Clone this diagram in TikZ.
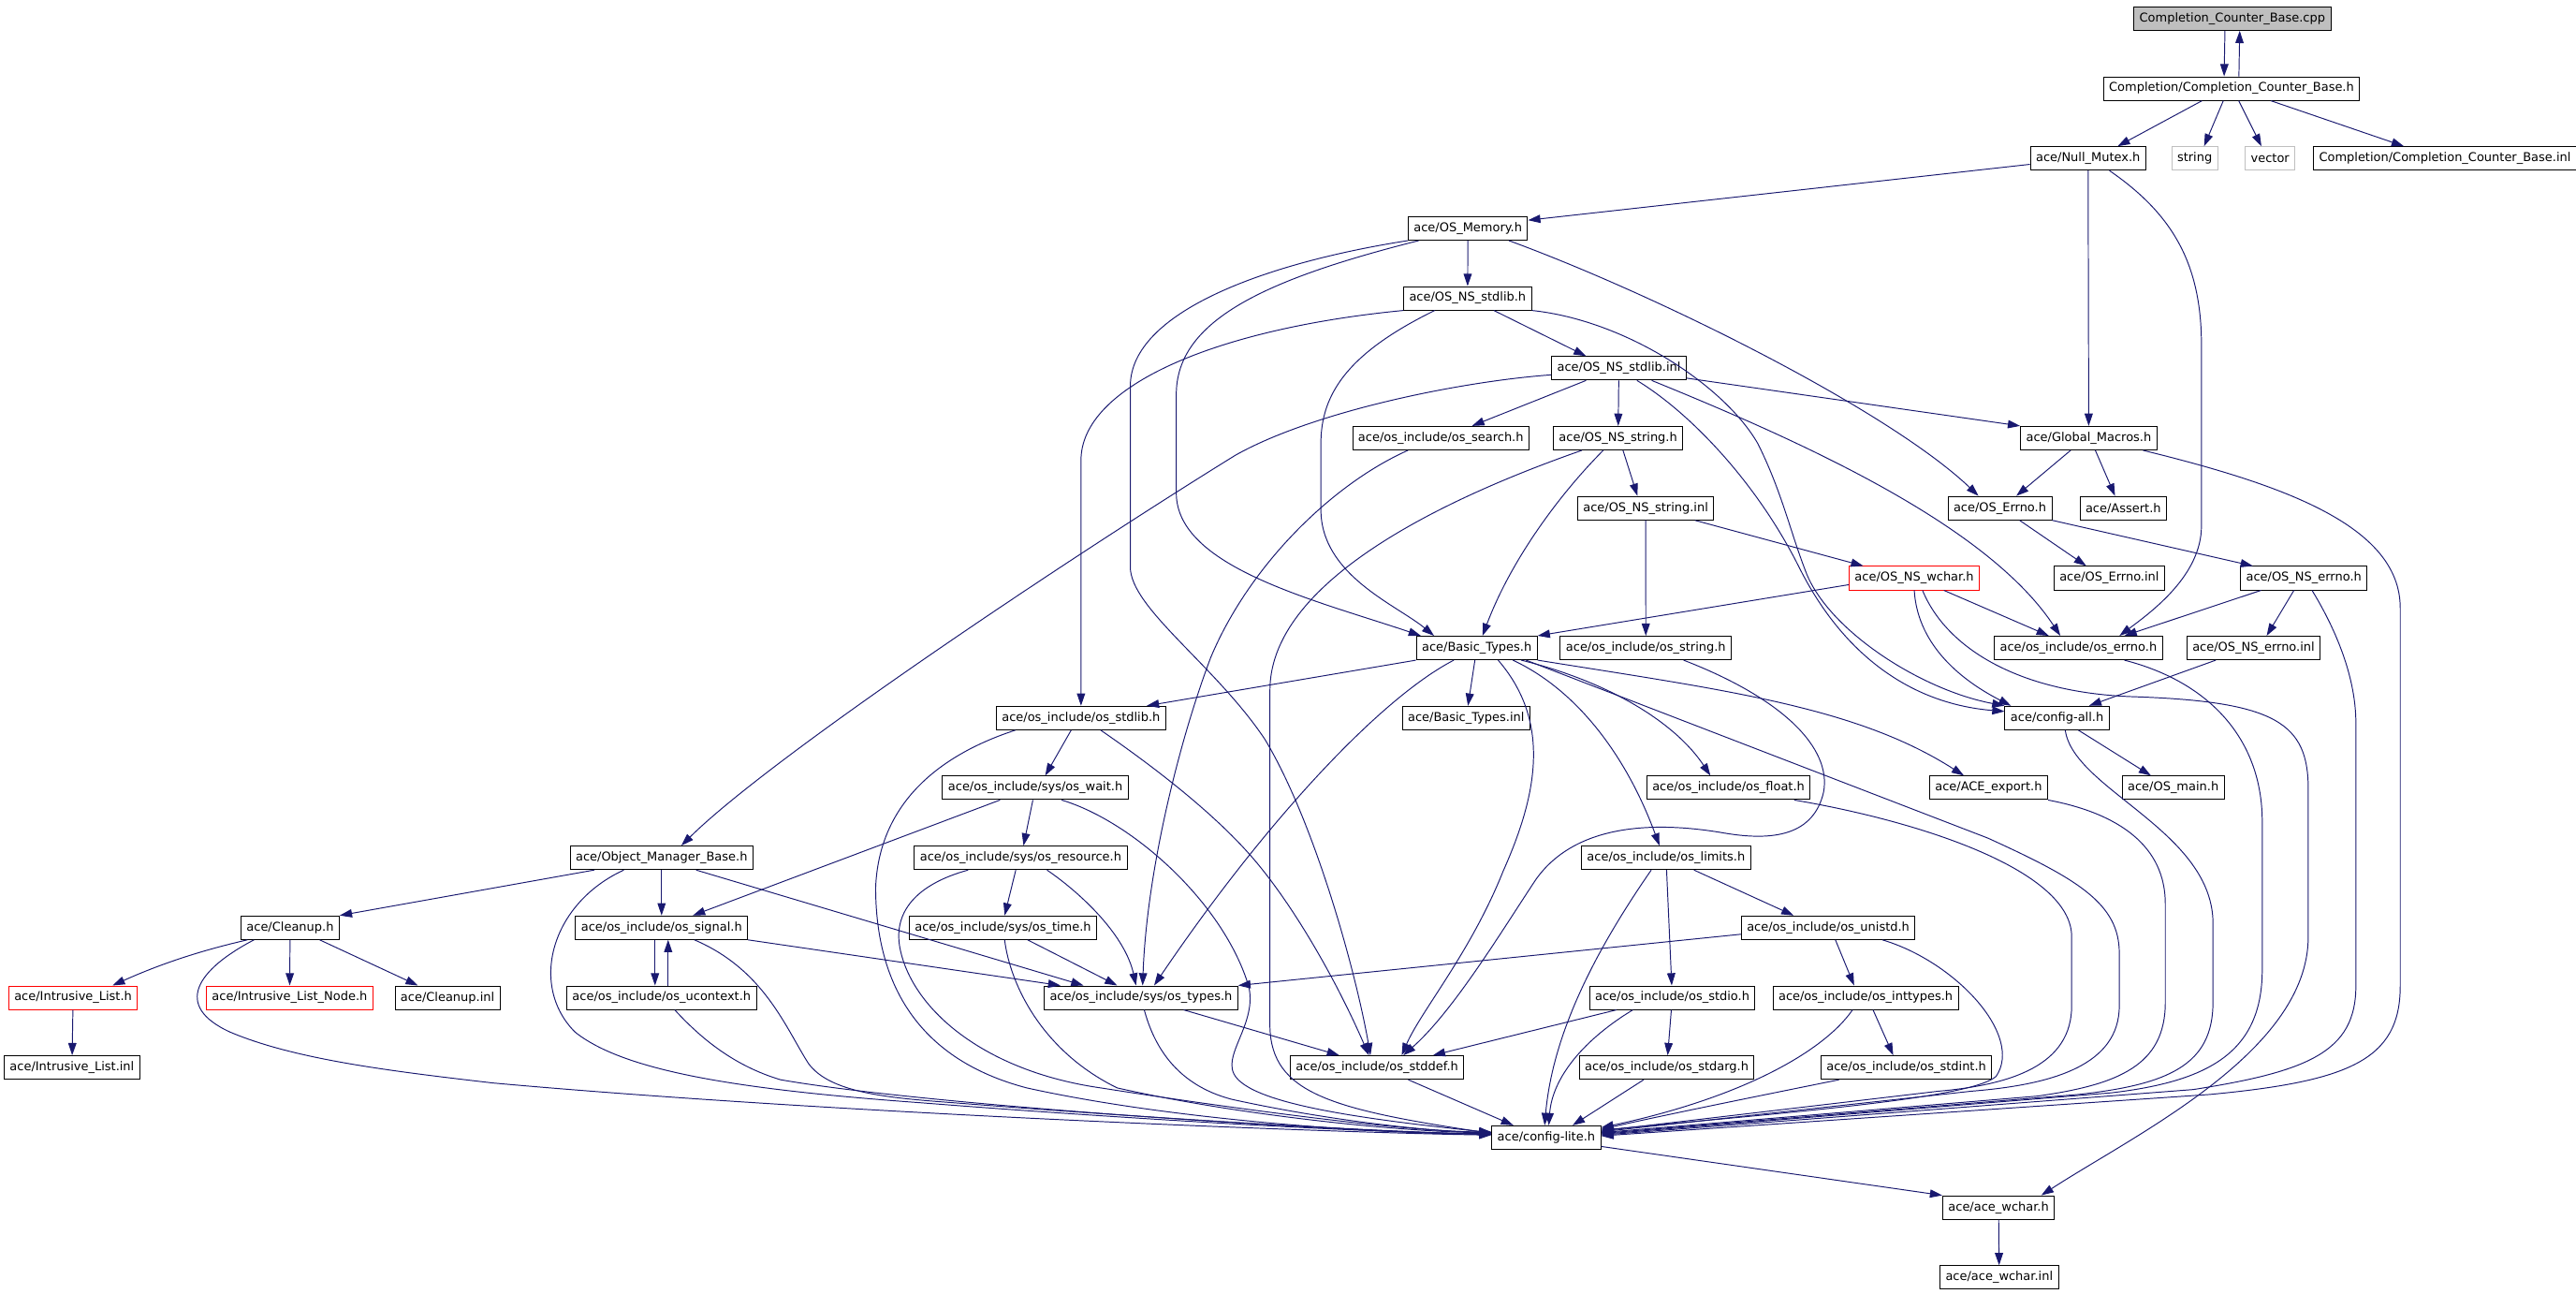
\documentclass[tikz,border=0pt]{standalone}
\usepackage{fontspec}
\usetikzlibrary{arrows.meta}
\newfontfamily\dxfamily{DejaVu Sans}
\newcommand\dxfont{\dxfamily\fontsize{7.39}{8.5}\selectfont}
\definecolor{dxblue}{HTML}{191970}
\definecolor{dxgray}{HTML}{BFBFBF}
\tikzset{
  file/.style={draw=black,fill=white,line width=0.55pt,font=\dxfont,inner xsep=3.4pt,inner ysep=0pt,minimum height=14.3pt},
  redfile/.style={file,draw=red},
  extfile/.style={file,draw=dxgray},
  hdr/.style={file,fill=dxgray},
  incl/.style={draw=dxblue,line width=0.55pt,-{Triangle[length=7.5pt,width=5pt]}}
}
\begin{document}
\begin{tikzpicture}[x=1pt,y=-1pt]
        \path[use as bounding box,fill=white] (0,0) rectangle (1568,786.85);

        %%%%%%%%%% File %%%%%%%%%%
        \node[hdr] (cpp) at (1358.8,11.3) {Completion\_Counter\_Base.cpp};
        \node[file] (ccbh) at (1358.3,53.9) {Completion/Completion\_Counter\_Base.h};
        \node[file] (nullmutex) at (1271,96.4) {ace/Null\_Mutex.h};
        \node[extfile] (string) at (1335.9,96.4) {string};
        \node[extfile] (vector) at (1381.8,96.4) {vector};
        \node[file] (ccbinl) at (1488.2,96.4) {Completion/Completion\_Counter\_Base.inl};
        \node[file] (osmemory) at (893.5,139) {ace/OS\_Memory.h};
        \node[file] (osnsstdlibh) at (893.3,181.5) {ace/OS\_NS\_stdlib.h};
        \node[file] (osnsstdlibinl) at (985.4,224.1) {ace/OS\_NS\_stdlib.inl};
        \node[file] (ossearch) at (877,266.6) {ace/os\_include/os\_search.h};
        \node[file] (osnsstringh) at (984.9,266.6) {ace/OS\_NS\_string.h};
        \node[file] (globalmacros) at (1271.4,266.6) {ace/Global\_Macros.h};
        \node[file] (osnsstringinl) at (1001.7,309.2) {ace/OS\_NS\_string.inl};
        \node[file] (oserrnoh) at (1217.3,309.2) {ace/OS\_Errno.h};
        \node[file] (assert) at (1292.4,309.2) {ace/Assert.h};
        \node[redfile] (osnswchar) at (1165.2,351.8) {ace/OS\_NS\_wchar.h};
        \node[file] (oserrnoinl) at (1283.9,351.8) {ace/OS\_Errno.inl};
        \node[file] (osnserrnoh) at (1402.3,351.8) {ace/OS\_NS\_errno.h};
        \node[file] (basictypes) at (898.9,394.3) {ace/Basic\_Types.h};
        \node[file] (osstring) at (1001.8,394.3) {ace/os\_include/os\_string.h};
        \node[file] (oserrno) at (1265.1,394.3) {ace/os\_include/os\_errno.h};
        \node[file] (osnserrnoinl) at (1371.7,394.3) {ace/OS\_NS\_errno.inl};
        \node[file] (osstdlib) at (658,436.9) {ace/os\_include/os\_stdlib.h};
        \node[file] (basictypesinl) at (892.4,436.9) {ace/Basic\_Types.inl};
        \node[file] (configall) at (1252.1,436.9) {ace/config-all.h};
        \node[file] (oswait) at (630.2,479.4) {ace/os\_include/sys/os\_wait.h};
        \node[file] (osfloat) at (1052.1,479.4) {ace/os\_include/os\_float.h};
        \node[file] (aceexport) at (1210.4,479.4) {ace/ACE\_export.h};
        \node[file] (osmain) at (1322.8,479.4) {ace/OS\_main.h};
        \node[file] (omb) at (402.7,522) {ace/Object\_Manager\_Base.h};
        \node[file] (osresource) at (621.3,522) {ace/os\_include/sys/os\_resource.h};
        \node[file] (oslimits) at (1014.1,522) {ace/os\_include/os\_limits.h};
        \node[file] (cleanup) at (176.6,564.5) {ace/Cleanup.h};
        \node[file] (ossignal) at (402.7,564.5) {ace/os\_include/os\_signal.h};
        \node[file] (ostime) at (610.5,564.5) {ace/os\_include/sys/os\_time.h};
        \node[file] (osunistd) at (1112.8,564.5) {ace/os\_include/os\_unistd.h};
        \node[redfile] (intrlist) at (44.5,607.1) {ace/Intrusive\_List.h};
        \node[redfile] (intrlistnode) at (176.3,607.1) {ace/Intrusive\_List\_Node.h};
        \node[file] (cleanupinl) at (272.4,607.1) {ace/Cleanup.inl};
        \node[file] (osucontext) at (402.7,607.1) {ace/os\_include/os\_ucontext.h};
        \node[file] (ostypes) at (694.5,607.1) {ace/os\_include/sys/os\_types.h};
        \node[file] (osstdio) at (1017.9,607.1) {ace/os\_include/os\_stdio.h};
        \node[file] (osinttypes) at (1135.6,607.1) {ace/os\_include/os\_inttypes.h};
        \node[file] (intrlistinl) at (43.8,649.6) {ace/Intrusive\_List.inl};
        \node[file] (osstddef) at (838.2,649.6) {ace/os\_include/os\_stddef.h};
        \node[file] (osstdarg) at (1014.5,649.6) {ace/os\_include/os\_stdarg.h};
        \node[file] (osstdint) at (1160.4,649.6) {ace/os\_include/os\_stdint.h};
        \node[file] (configlite) at (941.2,692.2) {ace/config-lite.h};
        \node[file] (acewchar) at (1216.5,734.8) {ace/ace\_wchar.h};
        \node[file] (acewcharinl) at (1216.9,777.3) {ace/ace\_wchar.inl};

        %%%%%%%%% Inclusioni %%%%%%%%%
        % Completion_Counter_Base
        \draw[incl] ([xshift=-4.5pt]cpp.south) -- ([xshift=-4.5pt]ccbh.north);
        \draw[incl] ([xshift=4.5pt]ccbh.north) -- ([xshift=4.5pt]cpp.south);
        \draw[incl] ([xshift=-18pt]ccbh.south) -- ([xshift=18pt]nullmutex.north);
        \draw[incl] ([xshift=-5pt]ccbh.south) -- ([xshift=5.7pt]string.north);
        \draw[incl] ([xshift=4.4pt]ccbh.south) -- ([xshift=-5.3pt]vector.north);
        \draw[incl] ([xshift=24pt]ccbh.south) -- ([xshift=-25pt]ccbinl.north);

        % Null_Mutex
        \draw[incl] ([yshift=-3.6pt]nullmutex.west) -- ([yshift=5pt]osmemory.east);
        \draw[incl] (nullmutex) -- (globalmacros);
        \draw[incl] ([xshift=13pt]nullmutex.south) .. controls (1322,130) and (1340,160) .. (1340,210) -- (1340,320) .. controls (1340,350) and (1310,372) .. ([xshift=25pt]oserrno.north);

        % OS_Memory
        \draw[incl] (osmemory) -- (osnsstdlibh);
        \draw[incl] ([xshift=-30pt]osmemory.south) .. controls (770,170) and (716,195) .. (716,240) -- (716,300) .. controls (716,345) and (800,365) .. ([xshift=-34pt]basictypes.north);
        \draw[incl] (osmemory.south west) .. controls (770,160) and (688,190) .. (688,235) -- (688,345) .. controls (688,370) and (740,405) .. (770,450) .. controls (800,500) and (825,590) .. ([xshift=-4pt]osstddef.north);
        \draw[incl] ([xshift=25pt]osmemory.south) .. controls (1010,180) and (1150,250) .. ([xshift=-13pt]oserrnoh.north);

        % OS_NS_stdlib.h
        \draw[incl] ([xshift=16pt]osnsstdlibh.south) -- ([xshift=-20pt]osnsstdlibinl.north);
        \draw[incl] (osnsstdlibh.south west) .. controls (740,200) and (658,235) .. (658,280) -- (osstdlib);
        \draw[incl] ([xshift=-20pt]osnsstdlibh.south) .. controls (820,215) and (804,240) .. (804,270) -- (804,310) .. controls (804,350) and (850,368) .. ([xshift=-26pt]basictypes.north);
        \draw[incl] (osnsstdlibh.south east) .. controls (990,195) and (1050,235) .. (1070,270) .. controls (1085,300) and (1090,325) .. (1100,350) .. controls (1115,385) and (1170,420) .. (configall.north west);

        % OS_NS_stdlib.inl
        \draw[incl] ([xshift=-20pt]osnsstdlibinl.south) -- ([xshift=19pt]ossearch.north);
        \draw[incl] (osnsstdlibinl) -- (osnsstringh);
        \draw[incl] ([yshift=-6pt]osnsstdlibinl.east) -- (globalmacros.north west);
        \draw[incl] ([yshift=-4pt]osnsstdlibinl.west) .. controls (890,232) and (800,250) .. (752,277) .. controls (650,340) and (470,460) .. ([xshift=12pt]omb.north);
        \draw[incl] ([xshift=11pt]osnsstdlibinl.south) .. controls (1030,252) and (1070,295) .. (1095,345) .. controls (1120,395) and (1160,428) .. ([yshift=4pt]configall.west);
        \draw[incl] ([xshift=20pt]osnsstdlibinl.south) .. controls (1100,270) and (1210,320) .. ([xshift=-11pt]oserrno.north);

        % os_search
        \draw[incl] ([xshift=-20pt]ossearch.south) .. controls (810,295) and (760,345) .. (737,400) .. controls (718,450) and (698,530) .. ([xshift=1pt]ostypes.north);

        % OS_NS_string.h
        \draw[incl] ([xshift=3pt]osnsstringh.south) -- ([xshift=-5pt]osnsstringinl.north);
        \draw[incl] ([xshift=-9pt]osnsstringh.south) .. controls (950,300) and (920,340) .. ([xshift=3.5pt]basictypes.north);
        \draw[incl] ([xshift=-22pt]osnsstringh.south) .. controls (860,310) and (773,360) .. (773,420) -- (773,625) .. controls (774,665) and (810,675) .. ([yshift=2.5pt]configlite.west);

        % OS_NS_string.inl
        \draw[incl] (osnsstringinl) -- (osstring);
        \draw[incl] ([xshift=30pt]osnsstringinl.south) -- ([xshift=-31pt]osnswchar.north);

        % Global_Macros
        \draw[incl] ([xshift=-11pt]globalmacros.south) -- ([xshift=10pt]oserrnoh.north);
        \draw[incl] ([xshift=4pt]globalmacros.south) -- ([xshift=-5pt]assert.north);
        \draw[incl] ([xshift=33pt]globalmacros.south) .. controls (1390,295) and (1461,320) .. (1461,370) -- (1461,600) .. controls (1461,645) and (1430,658) .. (1345,666) -- ([yshift=1pt]configlite.east);

        % OS_Errno.h
        \draw[incl] ([xshift=12pt]oserrnoh.south) -- ([xshift=-14pt]oserrnoinl.north);
        \draw[incl] (oserrnoh.south east) -- ([xshift=-31pt]osnserrnoh.north);

        % OS_NS_wchar.h
        \draw[incl] ([yshift=-4pt]osnswchar.west) -- (basictypes.north east);
        \draw[incl] ([xshift=18pt]osnswchar.south) -- ([xshift=-18pt]oserrno.north);
        \draw[incl] (osnswchar.south) .. controls (1167,390) and (1190,412) .. ([xshift=-28pt]configall.north);
        \draw[incl] ([xshift=5pt]osnswchar.south) .. controls (1185,395) and (1230,422) .. (1300,424) .. controls (1385,427) and (1405,440) .. (1405,480) -- (1405,570) .. controls (1405,640) and (1300,690) .. ([xshift=26pt]acewchar.north);

        % OS_NS_errno
        \draw[incl] ([xshift=-26pt]osnserrnoh.south) -- ([xshift=28pt]oserrno.north);
        \draw[incl] ([xshift=-6pt]osnserrnoh.south) -- ([xshift=8pt]osnserrnoinl.north);
        \draw[incl] ([xshift=5pt]osnserrnoh.south) .. controls (1420,380) and (1434,410) .. (1434,440) -- (1434,600) .. controls (1434,640) and (1405,652) .. (1335,663) -- ([yshift=1.5pt]configlite.east);
        \draw[incl] ([xshift=-23pt]osnserrnoinl.south) -- ([xshift=19.5pt]configall.north);

        % os_errno, config-all, ACE_export, os_float
        \draw[incl] ([xshift=28pt]oserrno.south) .. controls (1345,415) and (1377,450) .. (1377,500) -- (1377,590) .. controls (1377,640) and (1345,658) .. (1285,665) -- ([yshift=2pt]configlite.east);
        \draw[incl] ([xshift=13pt]configall.south) -- ([xshift=-13.5pt]osmain.north);
        \draw[incl] ([xshift=5pt]configall.south) .. controls (1262,480) and (1345,505) .. (1347,560) -- (1347,610) .. controls (1347,648) and (1320,660) .. (1265,666) -- ([yshift=2.5pt]configlite.east);
        \draw[incl] (aceexport.south east) .. controls (1290,495) and (1318,515) .. (1318,550) -- (1318,610) .. controls (1318,648) and (1290,660) .. (1240,667) -- ([yshift=3pt]configlite.east);
        \draw[incl] ([xshift=40pt]osfloat.south) .. controls (1170,500) and (1261,530) .. (1261,570) -- (1261,612) .. controls (1261,648) and (1225,660) .. (1180,664) -- ([yshift=4pt]configlite.east);

        % Basic_Types
        \draw[incl] (basictypes.south west) -- ([xshift=40pt]osstdlib.north);
        \draw[incl] (basictypes) -- (basictypesinl);
        \draw[incl] ([xshift=-14pt]basictypes.south) .. controls (840,425) and (770,500) .. ([xshift=8pt]ostypes.north);
        \draw[incl] ([xshift=13pt]basictypes.south) .. controls (945,440) and (935,485) .. (915,530) .. controls (895,580) and (865,615) .. ([xshift=15pt]osstddef.north);
        \draw[incl] ([xshift=22pt]basictypes.south) .. controls (960,420) and (990,460) .. ([xshift=-4pt]oslimits.north);
        \draw[incl] ([xshift=27pt]basictypes.south) .. controls (980,415) and (1020,440) .. ([xshift=-11pt]osfloat.north);
        \draw[incl] (basictypes.south east) .. controls (1050,420) and (1130,430) .. ([xshift=-15pt]aceexport.north);
        \draw[incl] ([xshift=30pt]basictypes.south) -- (1210,510) .. controls (1265,535) and (1290,550) .. (1290,580) -- (1290,612) .. controls (1290,648) and (1250,660) .. (1200,664) -- ([yshift=3.5pt]configlite.east);

        % os_string
        \draw[incl] ([xshift=23pt]osstring.south) .. controls (1085,425) and (1115,455) .. (1110,482) .. controls (1104,508) and (1080,512) .. (1050,507) .. controls (1010,500) and (960,500) .. (935,535) .. controls (915,565) and (885,615) .. ([xshift=16pt]osstddef.north);

        % os_stdlib
        \draw[incl] ([xshift=-6pt]osstdlib.south) -- ([xshift=6pt]oswait.north);
        \draw[incl] ([xshift=12pt]osstdlib.south) .. controls (700,465) and (740,495) .. (765,525) .. controls (790,555) and (815,600) .. ([xshift=-5pt]osstddef.north);
        \draw[incl] ([xshift=-40pt]osstdlib.south) .. controls (570,460) and (535,490) .. (533,540) .. controls (533,600) and (560,645) .. (625,662) .. controls (720,683) and (850,690) .. ([yshift=2pt]configlite.west);

        % sys/os_wait
        \draw[incl] ([xshift=-21.5pt]oswait.south) -- ([xshift=19pt]ossignal.north);
        \draw[incl] ([xshift=-1.5pt]oswait.south) -- ([xshift=1.7pt]osresource.north);
        \draw[incl] ([xshift=16pt]oswait.south) .. controls (690,500) and (745,550) .. (760,600) .. controls (765,620) and (748,638) .. (750,650) .. controls (752,670) and (820,680) .. ([yshift=3pt]configlite.west);

        % Object_Manager_Base
        \draw[incl] ([xshift=-41pt]omb.south) -- (cleanup.north east);
        \draw[incl] (omb) -- (ossignal);
        \draw[incl] ([xshift=21pt]omb.south) -- ([xshift=-35pt]ostypes.north);
        \draw[incl] ([xshift=-23pt]omb.south) .. controls (335,550) and (322,600) .. (350,628) .. controls (380,652) and (450,663) .. (560,671) .. controls (700,682) and (850,690) .. ([yshift=2.5pt]configlite.west);

        % sys/os_resource, sys/os_time
        \draw[incl] ([xshift=-3pt]osresource.south) -- ([xshift=1pt]ostime.north);
        \draw[incl] ([xshift=16pt]osresource.south) .. controls (660,545) and (685,570) .. ([xshift=-3pt]ostypes.north);
        \draw[incl] ([xshift=-32pt]osresource.south) .. controls (558,538) and (543,555) .. (548,578) .. controls (556,615) and (600,652) .. (670,662) .. controls (760,676) and (860,689) .. ([yshift=3.5pt]configlite.west);
        \draw[incl] ([xshift=15pt]ostime.south) -- ([xshift=-14.5pt]ostypes.north);
        \draw[incl] ([xshift=1pt]ostime.south) .. controls (615,600) and (635,640) .. (680,662) .. controls (760,680) and (860,689) .. ([yshift=3pt]configlite.west);

        % os_signal, os_ucontext
        \draw[incl] ([xshift=-4pt]ossignal.south) -- ([xshift=-4pt]osucontext.north);
        \draw[incl] ([xshift=4pt]osucontext.north) -- ([xshift=4pt]ossignal.south);
        \draw[incl] (ossignal.south east) -- ([xshift=-49pt]ostypes.north);
        \draw[incl] ([xshift=20pt]ossignal.south) .. controls (465,590) and (478,625) .. (492,647) .. controls (505,665) and (540,668) .. (580,671) .. controls (720,682) and (850,689) .. ([yshift=2pt]configlite.west);
        \draw[incl] ([xshift=8pt]osucontext.south) .. controls (425,630) and (445,648) .. (475,657) .. controls (560,672) and (800,688) .. ([yshift=2pt]configlite.west);

        % Cleanup
        \draw[incl] ([xshift=-26pt]cleanup.south) .. controls (115,580) and (90,590) .. ([xshift=24pt]intrlist.north);
        \draw[incl] (cleanup) -- (intrlistnode);
        \draw[incl] ([xshift=18pt]cleanup.south) -- ([xshift=-18pt]cleanupinl.north);
        \draw[incl] ([xshift=-22pt]cleanup.south) .. controls (120,590) and (105,612) .. (140,628) .. controls (180,645) and (240,652) .. (300,659) .. controls (500,677) and (800,689) .. ([yshift=1.5pt]configlite.west);
        \draw[incl] (intrlist) -- (intrlistinl);

        % sys/os_types
        \draw[incl] ([xshift=26pt]ostypes.south) -- ([xshift=-23pt]osstddef.north);
        \draw[incl] ([xshift=2pt]ostypes.south) .. controls (702,635) and (715,660) .. (750,669) .. controls (800,680) and (860,688) .. ([yshift=3pt]configlite.west);

        % os_limits, os_unistd
        \draw[incl] ([xshift=17pt]oslimits.south) -- ([xshift=-21pt]osunistd.north);
        \draw[incl] (oslimits) -- (osstdio);
        \draw[incl] ([xshift=-9pt]oslimits.south) .. controls (970,580) and (945,630) .. ([xshift=-1pt]configlite.north);
        \draw[incl] ([yshift=-4pt]osunistd.west) -- (ostypes.north east);
        \draw[incl] ([xshift=4.4pt]osunistd.south) -- ([xshift=-7pt]osinttypes.north);
        \draw[incl] ([xshift=33pt]osunistd.south) .. controls (1190,585) and (1232,630) .. (1215,655) .. controls (1200,668) and (1100,676) .. ([yshift=4.5pt]configlite.east);

        % os_stdio, os_inttypes
        \draw[incl] ([xshift=-34pt]osstdio.south) -- ([xshift=34pt]osstddef.north);
        \draw[incl] (osstdio) -- (osstdarg);
        \draw[incl] ([xshift=-24pt]osstdio.south) .. controls (965,632) and (945,655) .. ([xshift=1.5pt]configlite.north);
        \draw[incl] ([xshift=4.5pt]osinttypes.south) -- ([xshift=-8pt]osstdint.north);
        \draw[incl] ([xshift=-8pt]osinttypes.south) .. controls (1110,640) and (1060,668) .. ([yshift=6pt]configlite.east);
        \draw[incl] ([xshift=-41pt]osstdint.south) .. controls (1080,665) and (1020,677) .. ([yshift=5pt]configlite.east);

        % os_stddef, os_stdarg, config-lite
        \draw[incl] ([xshift=19pt]osstddef.south) -- ([xshift=-20pt]configlite.north);
        \draw[incl] ([xshift=-14pt]osstdarg.south) -- ([xshift=16pt]configlite.north);
        \draw[incl] ([yshift=2pt]configlite.south east) -- (acewchar.north west);
        \draw[incl] (acewchar) -- (acewcharinl);
    \end{tikzpicture}
\end{document}
